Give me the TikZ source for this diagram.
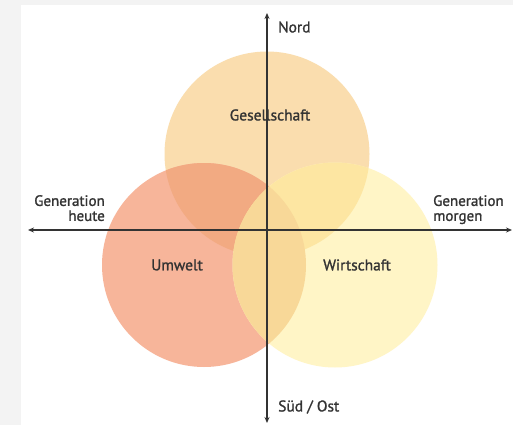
\documentclass[tikz,border=0pt]{standalone}
\usepackage{fontspec}
\setmainfont{PT Sans}
\newfontfamily\labelfont[RawFeature={embolden=1.3}]{PT Sans}
\usetikzlibrary{arrows.meta}

\definecolor{gesCol}{HTML}{FADDAE}
\definecolor{umwCol}{HTML}{F7B59A}
\definecolor{wirCol}{HTML}{FFF5C6}
\definecolor{gesumwCol}{HTML}{F2AA82}
\definecolor{geswirCol}{HTML}{FDE6A2}
\definecolor{umwwirCol}{HTML}{F8D898}
\definecolor{axisCol}{HTML}{333333}
\definecolor{frameCol}{HTML}{F3F3F3}

\tikzset{
  axis/.style={draw=axisCol, line width=1.1pt, {Stealth[length=6pt,width=5pt]}-{Stealth[length=6pt,width=5pt]}},
  label/.style={text=axisCol, font=\labelfont\fontsize{15.5}{15}\selectfont, inner sep=0pt},
  dimlabel/.style={text=axisCol, font=\labelfont\fontsize{15}{15}\selectfont, inner sep=0pt, align=#1},
}

\begin{document}
\begin{tikzpicture}[x=1pt,y=-1pt]
            % frame
            \fill[frameCol] (0,0) rectangle (513,425);
            \fill[white] (21,5) rectangle (513,425);
            \useasboundingbox (0,0) rectangle (513,425);

            % the three circles
            \fill[gesCol] (267,154) circle[radius=102.5pt];
            \fill[umwCol] (204,265) circle[radius=102pt];
            \fill[wirCol] (335,265) circle[radius=102.5pt];
            \begin{scope}
                \clip (267,154) circle[radius=102.5pt];
                \fill[gesumwCol] (204,265) circle[radius=102pt];
                \fill[geswirCol] (335,265) circle[radius=102.5pt];
            \end{scope}
            \begin{scope}
                \clip (204,265) circle[radius=102pt];
                \fill[umwwirCol] (335,265) circle[radius=102.5pt];
            \end{scope}

            % axes
            \coordinate (west) at (28,230);
            \coordinate (east) at (512,230);
            \coordinate (north) at (267,13);
            \coordinate (south) at (267,423);
            \draw[axis] (west) -- (east);
            \draw[axis] (south) -- (north);

            % labels
            \node[label, anchor=west] (nord) at (278,27) {Nord};
            \node[label, anchor=west] (sued) at (278,407) {Süd / Ost};
            \node[dimlabel=right, anchor=north east] (heute) at (105,195) {Generation\\heute};
            \node[dimlabel=left, anchor=north west] (morgen) at (433,195) {Generation\\morgen};
            \node[label] (ges) at (270,115) {Gesellschaft};
            \node[label] (umw) at (177,265) {Umwelt};
            \node[label] (wir) at (357,265) {Wirtschaft};
\end{tikzpicture}
\end{document}
